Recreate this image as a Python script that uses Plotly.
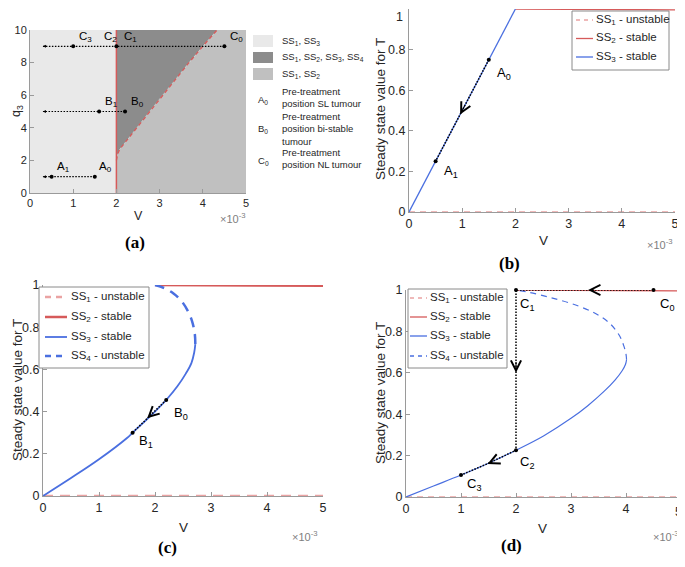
import plotly.graph_objects as go

# the page body adds an 8px margin, so the figure is drawn 8px smaller and
# all layout positions below are given in page pixels and shifted by OFF
PAGE_W, PAGE_H = 685, 567
OFF = 8
W, H = PAGE_W - OFF, PAGE_H - OFF

# ---------------- data (V in units of 1e-3) ----------------
V_ticks = [0, 1, 2, 3, 4, 5]
q3_ticks = [0, 2, 4, 6, 8, 10]
T_ticks = [0, 0.2, 0.4, 0.6, 0.8, 1]
T_ticktext = ["0", "0.2", "0.4", "0.6", "0.8", "1"]

# panel (a): regions in (V, q3) plane
V_crit = 2.0
q3_max = 10.0
V_max = 5.0
boundary_q3 = [2.0, 2.4, 2.7, 3.0, 3.5, 4.0, 4.5, 5.0, 6.0, 7.0, 8.0, 9.0, 10.0]
boundary_V = [2.0, 2.03, 2.08, 2.17, 2.32, 2.48, 2.62, 2.76, 3.06, 3.36, 3.68, 4.0, 4.33]

rowA_q3, rowA_V = 1, [1.5, 0.5]
rowB_q3, rowB_V = 5, [2.2, 1.6]
rowC_q3, rowC_V = 9, [4.5, 2.0, 1.0]
arrow_end_V = 0.3

# panel (b): q3 = 1
b_ss3_V = [0, 2.0]
b_ss3_T = [0, 1.0]
ss2_V = [2.0, 5.0]
ss2_T = [1.0, 0.996]
ss1_V = [0, 5.0]
ss1_T = [0, 0]
b_path_V = [1.5, 0.5]
b_path_T = [0.75, 0.25]
b_arrow = (0.96, 0.48, 1.06, 0.53)

# panel (c): q3 = 5
c_ss3_V = [0, 0.5, 1.0, 1.5, 1.6, 2.0, 2.2, 2.4, 2.55, 2.65, 2.70, 2.72]
c_ss3_T = [0, 0.085, 0.174, 0.275, 0.30, 0.40, 0.455, 0.52, 0.58, 0.63, 0.68, 0.72]
c_ss4_V = [2.72, 2.71, 2.66, 2.58, 2.47, 2.33, 2.17, 2.0]
c_ss4_T = [0.72, 0.77, 0.83, 0.88, 0.925, 0.96, 0.985, 1.0]
c_path_V = [2.2, 1.6]
c_path_T = [0.455, 0.30]
c_arrow = (1.86, 0.368, 1.96, 0.393)

# panel (d): q3 = 9
d_ss3_V = [0, 0.5, 1.0, 1.5, 2.0, 2.5, 3.0, 3.3, 3.6, 3.8, 3.93, 3.99, 4.01]
d_ss3_T = [0, 0.053, 0.106, 0.163, 0.226, 0.295, 0.38, 0.44, 0.51, 0.565, 0.61, 0.64, 0.663]
d_ss4_V = [4.01, 4.0, 3.96, 3.88, 3.70, 3.42, 3.0, 2.6, 2.25, 2.0]
d_ss4_T = [0.663, 0.69, 0.73, 0.78, 0.84, 0.89, 0.935, 0.965, 0.988, 1.0]
d_path_V = [4.5, 2.0, 2.0, 1.5, 1.0]
d_path_T = [1.0, 1.0, 0.226, 0.163, 0.106]
d_pts_V = [4.5, 2.0, 2.0, 1.0]
d_pts_T = [1.0, 1.0, 0.226, 0.106]
d_arrows = [(3.31, 1.0, 3.45, 1.0), (2.0, 0.60, 2.0, 0.66), (1.48, 0.16, 1.6, 0.174)]

# legend labels
leg_names = ["SS<sub>1</sub> - unstable", "SS<sub>2</sub> - stable", "SS<sub>3</sub> - stable", "SS<sub>4</sub> - unstable"]

# ---------------- styles ----------------
RED = "#d65a5a"
PINK = "#eaa3a3"
BLUE = "#4a6fe0"
LIGHT = "#e9e9e9"
DARK = "#8c8c8c"
MID = "#c0c0c0"
AX = "#9a9a9a"
TXT = "#262626"
FONT = "Liberation Sans"


def px(x):
    return (x - OFF) / W


def py(y):
    return 1 - (y - OFF) / H


fig = go.Figure()

# ---- panel (a) ----
fig.add_trace(go.Scatter(x=[0, V_crit, V_crit, 0, 0], y=[0, 0, q3_max, q3_max, 0], fill="toself",
                         fillcolor=LIGHT, line=dict(width=0), mode="lines", showlegend=False,
                         xaxis="x", yaxis="y", hoverinfo="skip"))
fig.add_trace(go.Scatter(x=[V_crit] + boundary_V + [V_crit], y=[boundary_q3[0]] + boundary_q3 + [q3_max],
                         fill="toself", fillcolor=DARK, line=dict(width=0), mode="lines", showlegend=False,
                         xaxis="x", yaxis="y", hoverinfo="skip"))
fig.add_trace(go.Scatter(x=[V_crit, V_max, V_max] + boundary_V[::-1] + [V_crit],
                         y=[0, 0, q3_max] + boundary_q3[::-1] + [0],
                         fill="toself", fillcolor=MID, line=dict(width=0), mode="lines", showlegend=False,
                         xaxis="x", yaxis="y", hoverinfo="skip"))
fig.add_trace(go.Scatter(x=[V_crit, V_crit], y=[0, q3_max], mode="lines", line=dict(color=RED, width=1.5),
                         showlegend=False, xaxis="x", yaxis="y", cliponaxis=False))
fig.add_trace(go.Scatter(x=boundary_V, y=boundary_q3, mode="lines", line=dict(color=RED, width=1.3, dash="4px,3px"),
                         showlegend=False, xaxis="x", yaxis="y", cliponaxis=False))

for q, vs in [(rowA_q3, rowA_V), (rowB_q3, rowB_V), (rowC_q3, rowC_V)]:
    fig.add_trace(go.Scatter(x=[vs[0], arrow_end_V], y=[q, q], mode="lines",
                             line=dict(color="black", width=1.2, dash="1.5px,1.5px"),
                             showlegend=False, xaxis="x", yaxis="y"))
    fig.add_trace(go.Scatter(x=vs, y=[q] * len(vs), mode="markers", marker=dict(color="black", size=4),
                             showlegend=False, xaxis="x", yaxis="y"))
    fig.add_annotation(x=arrow_end_V, y=q, ax=arrow_end_V + 0.12, ay=q, xref="x", yref="y", axref="x", ayref="y",
                       showarrow=True, arrowhead=2, arrowsize=0.6, arrowwidth=1, arrowcolor="black", text="")

lbl_a = [
    ("C<sub>3</sub>", 1.08, 9.6), ("C<sub>2</sub>", 1.66, 9.6), ("C<sub>1</sub>", 2.12, 9.6), ("C<sub>0</sub>", 4.58, 9.6),
    ("B<sub>1</sub>", 1.68, 5.6), ("B<sub>0</sub>", 2.28, 5.6),
    ("A<sub>1</sub>", 0.58, 1.6), ("A<sub>0</sub>", 1.56, 1.6),
]
for t, x, y in lbl_a:
    fig.add_annotation(x=x, y=y, xref="x", yref="y", text=t, showarrow=False, xanchor="left",
                       font=dict(size=11.5, color="black", family=FONT))

# ---- panel (b) ----
fig.add_trace(go.Scatter(x=ss1_V, y=ss1_T, mode="lines", line=dict(color=PINK, width=1.3, dash="6px,5px"),
                         showlegend=False, xaxis="x2", yaxis="y2", cliponaxis=False))
fig.add_trace(go.Scatter(x=ss2_V, y=ss2_T, mode="lines", line=dict(color=RED, width=1.3),
                         showlegend=False, xaxis="x2", yaxis="y2", cliponaxis=False))
fig.add_trace(go.Scatter(x=b_ss3_V, y=b_ss3_T, mode="lines", line=dict(color=BLUE, width=1.3),
                         showlegend=False, xaxis="x2", yaxis="y2", cliponaxis=False))
fig.add_trace(go.Scatter(x=b_path_V, y=b_path_T, mode="lines+markers",
                         line=dict(color="black", width=1.5, dash="1.5px,1.5px"), marker=dict(color="black", size=4),
                         showlegend=False, xaxis="x2", yaxis="y2"))
fig.add_annotation(x=b_arrow[0], y=b_arrow[1], ax=b_arrow[2], ay=b_arrow[3], xref="x2", yref="y2",
                   axref="x2", ayref="y2", showarrow=True, arrowhead=5, arrowsize=2, arrowwidth=1,
                   arrowcolor="black", text="")
fig.add_annotation(x=1.62, y=0.68, xref="x2", yref="y2", text="A<sub>0</sub>", showarrow=False, xanchor="left",
                   font=dict(size=13, color="black", family=FONT))
fig.add_annotation(x=0.62, y=0.2, xref="x2", yref="y2", text="A<sub>1</sub>", showarrow=False, xanchor="left",
                   font=dict(size=13, color="black", family=FONT))

# ---- panel (c) ----
fig.add_trace(go.Scatter(x=ss1_V, y=ss1_T, mode="lines", line=dict(color=PINK, width=2.5, dash="10px,7px"),
                         showlegend=False, xaxis="x3", yaxis="y3", cliponaxis=False))
fig.add_trace(go.Scatter(x=ss2_V, y=ss2_T, mode="lines", line=dict(color=RED, width=2.5),
                         showlegend=False, xaxis="x3", yaxis="y3", cliponaxis=False))
fig.add_trace(go.Scatter(x=c_ss3_V, y=c_ss3_T, mode="lines", line=dict(color=BLUE, width=1.8, shape="spline"),
                         showlegend=False, xaxis="x3", yaxis="y3", cliponaxis=False))
fig.add_trace(go.Scatter(x=c_ss4_V, y=c_ss4_T, mode="lines", line=dict(color=BLUE, width=2.5, dash="10px,7px", shape="spline"),
                         showlegend=False, xaxis="x3", yaxis="y3", cliponaxis=False))
fig.add_trace(go.Scatter(x=c_path_V, y=c_path_T, mode="lines+markers",
                         line=dict(color="black", width=1.5, dash="1.5px,1.5px"), marker=dict(color="black", size=4),
                         showlegend=False, xaxis="x3", yaxis="y3"))
fig.add_annotation(x=c_arrow[0], y=c_arrow[1], ax=c_arrow[2], ay=c_arrow[3], xref="x3", yref="y3",
                   axref="x3", ayref="y3", showarrow=True, arrowhead=5, arrowsize=2, arrowwidth=1,
                   arrowcolor="black", text="")
fig.add_annotation(x=2.3, y=0.39, xref="x3", yref="y3", text="B<sub>0</sub>", showarrow=False, xanchor="left",
                   font=dict(size=13, color="black", family=FONT))
fig.add_annotation(x=1.68, y=0.26, xref="x3", yref="y3", text="B<sub>1</sub>", showarrow=False, xanchor="left",
                   font=dict(size=13, color="black", family=FONT))

# ---- panel (d) ----
fig.add_trace(go.Scatter(x=ss1_V, y=ss1_T, mode="lines", line=dict(color=PINK, width=1.3, dash="6px,5px"),
                         showlegend=False, xaxis="x4", yaxis="y4", cliponaxis=False))
fig.add_trace(go.Scatter(x=ss2_V, y=ss2_T, mode="lines", line=dict(color=RED, width=1.3),
                         showlegend=False, xaxis="x4", yaxis="y4", cliponaxis=False))
fig.add_trace(go.Scatter(x=d_ss3_V, y=d_ss3_T, mode="lines", line=dict(color=BLUE, width=1.2, shape="spline"),
                         showlegend=False, xaxis="x4", yaxis="y4", cliponaxis=False))
fig.add_trace(go.Scatter(x=d_ss4_V, y=d_ss4_T, mode="lines", line=dict(color=BLUE, width=1.2, dash="6px,5px", shape="spline"),
                         showlegend=False, xaxis="x4", yaxis="y4", cliponaxis=False))
fig.add_trace(go.Scatter(x=d_path_V, y=d_path_T, mode="lines",
                         line=dict(color="black", width=1.5, dash="1.5px,1.5px"),
                         showlegend=False, xaxis="x4", yaxis="y4", cliponaxis=False))
fig.add_trace(go.Scatter(x=d_pts_V, y=d_pts_T, mode="markers", marker=dict(color="black", size=4),
                         showlegend=False, xaxis="x4", yaxis="y4", cliponaxis=False))
for hx, hy, tx, ty in d_arrows:
    fig.add_annotation(x=hx, y=hy, ax=tx, ay=ty, xref="x4", yref="y4", axref="x4", ayref="y4", showarrow=True,
                       arrowhead=5, arrowsize=2, arrowwidth=1, arrowcolor="black", text="")
for t, x, y in [("C<sub>0</sub>", 4.58, 0.93), ("C<sub>1</sub>", 2.04, 0.93),
                ("C<sub>2</sub>", 2.04, 0.165), ("C<sub>3</sub>", 1.07, 0.06)]:
    fig.add_annotation(x=x, y=y, xref="x4", yref="y4", text=t, showarrow=False, xanchor="left",
                       font=dict(size=13, color="black", family=FONT))


# ---------------- axes ----------------
def axstyle(tickvals, ticktext, rng, dom, anchor, size):
    return dict(domain=dom, range=rng, anchor=anchor, tickvals=tickvals, ticktext=ticktext,
                showline=True, linecolor=AX, linewidth=1, ticks="inside", ticklen=4, tickcolor=AX,
                showgrid=False, zeroline=False, tickfont=dict(size=size, color=TXT, family=FONT), mirror=False,
                automargin=False, fixedrange=True, ticklabeloverflow="allow")


V_tt = [str(v) for v in V_ticks]
q_tt = [str(v) for v in q3_ticks]
# labels that sit at the page edge are drawn as free texts instead
T_tt_b = T_ticktext[:-1] + [""]
V_tt_d = V_tt[:-1] + [""]
fig.update_layout(
    width=W, height=H, margin=dict(l=0, r=0, t=0, b=0, pad=0, autoexpand=False),
    paper_bgcolor="white", plot_bgcolor="rgba(0,0,0,0)", showlegend=False,
    font=dict(family=FONT, color=TXT),
    xaxis=axstyle(V_ticks, V_tt, [0, 5], [px(30), px(246)], "y", 11),
    yaxis=axstyle(q3_ticks, q_tt, [0, 10], [py(193), py(30)], "x", 11),
    xaxis2=axstyle(V_ticks, V_tt, [0, 5], [px(409), px(675)], "y2", 12.5),
    yaxis2=axstyle(T_ticks, T_tt_b, [0, 1], [py(212), py(9)], "x2", 12.5),
    xaxis3=axstyle(V_ticks, V_tt, [0, 5], [px(43), px(323)], "y3", 12.5),
    yaxis3=axstyle(T_ticks, T_ticktext, [0, 1], [py(496), py(285)], "x3", 12.5),
    xaxis4=axstyle(V_ticks, V_tt_d, [0, 5], [px(406), px(681)], "y4", 12.5),
    yaxis4=axstyle(T_ticks, T_ticktext, [0, 1], [py(497), py(290)], "x4", 12.5),
)
fig.add_annotation(x=px(405), y=py(8.5), xref="paper", yref="paper", text=T_ticktext[-1], showarrow=False,
                   xanchor="right", yanchor="top", font=dict(size=12.5, color=TXT, family=FONT))
fig.add_annotation(x=px(684), y=py(512), xref="paper", yref="paper", text=V_tt[-1], showarrow=False,
                   xanchor="right", yanchor="middle", font=dict(size=12.5, color=TXT, family=FONT))

# ---------------- legend boxes for (b), (c), (d) ----------------
leg_specs = [
    dict(box=(572, 669, 11, 70), ys=[20, 38.5, 57], sx=(576, 593), tx=594,
         styles=[(PINK, 1.3, "4px,4px"), (RED, 1.3, "solid"), (BLUE, 1.3, "solid")]),
    dict(box=(39, 149, 287, 368), ys=[297, 317, 337, 356], sx=(45, 67), tx=69,
         styles=[(PINK, 2.5, "6px,5px"), (RED, 2.5, "solid"), (BLUE, 1.8, "solid"), (BLUE, 2.5, "6px,5px")]),
    dict(box=(408, 507, 289, 368), ys=[298, 317, 336, 356], sx=(410, 427), tx=428,
         styles=[(PINK, 1.3, "4px,4px"), (RED, 1.3, "solid"), (BLUE, 1.3, "solid"), (BLUE, 1.3, "4px,4px")]),
]
for spec in leg_specs:
    x0, x1, y0, y1 = spec["box"]
    fig.add_shape(type="rect", xref="paper", yref="paper", x0=px(x0), x1=px(x1), y0=py(y1), y1=py(y0),
                  fillcolor="white", line=dict(color="#8a8a8a", width=1))
    for i, (yy, (col, lw, dsh)) in enumerate(zip(spec["ys"], spec["styles"])):
        fig.add_shape(type="line", xref="paper", yref="paper", x0=px(spec["sx"][0]), x1=px(spec["sx"][1]),
                      y0=py(yy), y1=py(yy), line=dict(color=col, width=lw, dash=dsh))
        fig.add_annotation(x=px(spec["tx"]), y=py(yy), xref="paper", yref="paper", text=leg_names[i],
                           showarrow=False, xanchor="left", yanchor="middle",
                           font=dict(size=11.5, color=TXT, family=FONT))

# ---------------- panel (a) legend (swatches + text) ----------------
for (y0, y1, col) in [(35, 47, LIGHT), (52, 63, DARK), (68, 80, MID)]:
    fig.add_shape(type="rect", xref="paper", yref="paper", x0=px(253), x1=px(273), y0=py(y1), y1=py(y0),
                  fillcolor=col, line=dict(width=0))
leg_a_text = [
    ("SS<sub>1</sub>, SS<sub>3</sub>", 280, 41),
    ("SS<sub>1</sub>, SS<sub>2</sub>, SS<sub>3</sub>, SS<sub>4</sub>", 280, 57),
    ("SS<sub>1</sub>, SS<sub>2</sub>", 280, 74),
    ("Pre-treatment<br>position SL tumour", 280, 97),
    ("Pre-treatment<br>position bi-stable<br>tumour", 280, 129),
    ("Pre-treatment<br>position NL tumour", 280, 158),
    ("A<sub>0</sub>", 256, 100),
    ("B<sub>0</sub>", 256, 129),
    ("C<sub>0</sub>", 256, 161),
]
for t, x, y in leg_a_text:
    fig.add_annotation(x=px(x), y=py(y), xref="paper", yref="paper", text=t, showarrow=False, xanchor="left",
                       yanchor="middle", align="left", font=dict(size=9.5, color=TXT, family=FONT))

# ---------------- axis titles, exponents, captions ----------------
txt = [
    ("q<sub>3</sub>", 17, 111, -90, 12.5),
    ("V", 138, 216, 0, 12.5),
    ("Steady state value for T", 381, 109, -90, 13.5),
    ("V", 543, 240, 0, 13.5),
    ("Steady state value for T", 17, 390, -90, 13.5),
    ("V", 183, 527, 0, 13.5),
    ("Steady state value for T", 380, 393, -90, 13.5),
    ("V", 542, 528, 0, 13.5),
]
for t, x, y, ang, sz in txt:
    fig.add_annotation(x=px(x), y=py(y), xref="paper", yref="paper", text=t, showarrow=False, textangle=ang,
                       xanchor="center", yanchor="middle", font=dict(size=sz, color=TXT, family=FONT))
for x, y in [(233, 218), (660, 244), (305, 536), (666, 536)]:
    fig.add_annotation(x=px(x), y=py(y), xref="paper", yref="paper", text="×10<sup>-3</sup>", showarrow=False,
                       xanchor="center", yanchor="middle", font=dict(size=11, color="#808080", family=FONT))
for t, x, y in [("(a)", 135, 242), ("(b)", 509, 263), ("(c)", 167, 547), ("(d)", 511, 545)]:
    fig.add_annotation(x=px(x), y=py(y), xref="paper", yref="paper", text="<b>" + t + "</b>", showarrow=False,
                       xanchor="center", yanchor="middle", font=dict(size=17, color="black", family="Liberation Serif"))

fig.write_html("out.html")
